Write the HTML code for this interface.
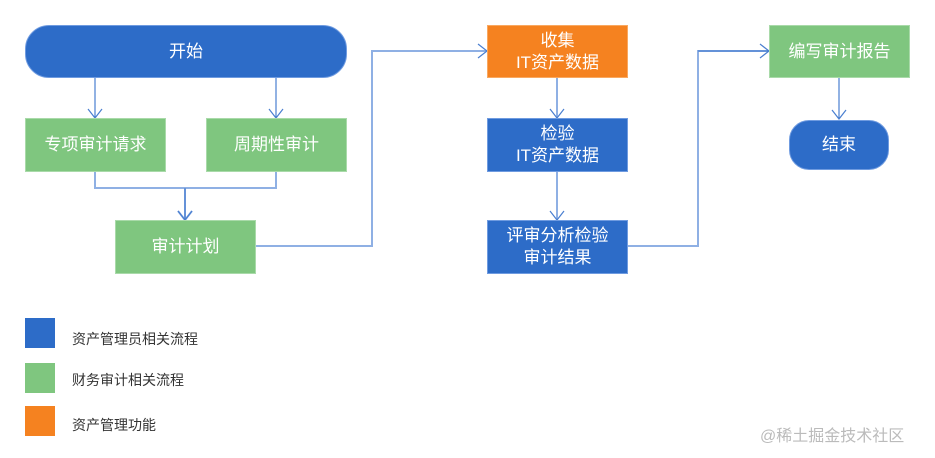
<!DOCTYPE html>
<html><head><meta charset="utf-8"><style>
body{margin:0;width:935px;height:458px;background:#fff;position:relative;overflow:hidden;font-family:"Liberation Sans","Noto Sans CJK SC",sans-serif}
.b{position:absolute;display:flex;align-items:center;justify-content:center;text-align:center;color:#fff;font-size:17px;line-height:22px;box-sizing:border-box}
.g{background:#7fc67f;border:1px solid #a9daa9}
.bl{background:#2d6cc8;border:1px solid #6f9be0}
.o{background:#f58220;border:1px solid #f9a860}
.lg{position:absolute;left:25px;width:30px;height:30px}
.lt{position:absolute;left:72px;font-size:14px;color:#333}
</style></head><body>
<svg width="935" height="458" style="position:absolute;left:0;top:0">
<g fill="none" stroke="#4a7fd0" stroke-width="1.2">
<path d="M95 78V118M88 109L95 118L102 109"/>
<path d="M276 78V118M269 109L276 118L283 109"/>
<path d="M95 172V188H276V172M185 188V220M178 211L185 220L192 211" stroke="#8fb0e4" stroke-width="2"/>
<path d="M185 188V220M178 211L185 220L192 211"/>
<path d="M256 246H372V51H487" stroke="#8fb0e4" stroke-width="2"/>
<path d="M478 44L487 51L478 58"/>
<path d="M557 78V118" stroke="#8fb0e4" stroke-width="2"/><path d="M550 109L557 118L564 109"/>
<path d="M557 172V220" stroke="#8fb0e4" stroke-width="2"/><path d="M550 211L557 220L564 211"/>
<path d="M628 246H698V51H769" stroke="#8fb0e4" stroke-width="2"/>
<path d="M698 51H769M760 44L769 51L760 58"/>
<path d="M839 78V119M832 110L839 119L846 110"/>
</g></svg>
<div class="b bl" style="left:25px;top:25px;width:322px;height:53px;border-radius:24px">开始</div>
<div class="b g" style="left:25px;top:118px;width:141px;height:54px">专项审计请求</div>
<div class="b g" style="left:206px;top:118px;width:141px;height:54px">周期性审计</div>
<div class="b g" style="left:115px;top:220px;width:141px;height:54px">审计计划</div>
<div class="b o" style="left:487px;top:25px;width:141px;height:53px">收集<br>IT资产数据</div>
<div class="b bl" style="left:487px;top:118px;width:141px;height:54px">检验<br>IT资产数据</div>
<div class="b bl" style="left:487px;top:220px;width:141px;height:54px">评审分析检验<br>审计结果</div>
<div class="b g" style="left:769px;top:25px;width:141px;height:53px">编写审计报告</div>
<div class="b bl" style="left:789px;top:120px;width:100px;height:50px;border-radius:20px">结束</div>
<div class="lg" style="top:318px;background:#2d6cc8"></div>
<div class="lg" style="top:363px;background:#7fc67f"></div>
<div class="lg" style="top:406px;background:#f58220"></div>
<div class="lt" style="top:329px">资产管理员相关流程</div>
<div class="lt" style="top:370px">财务审计相关流程</div>
<div class="lt" style="top:415px">资产管理功能</div>
<div style="position:absolute;left:760px;top:422px;font-size:16px;color:#bbb">@稀土掘金技术社区</div>
</body></html>
